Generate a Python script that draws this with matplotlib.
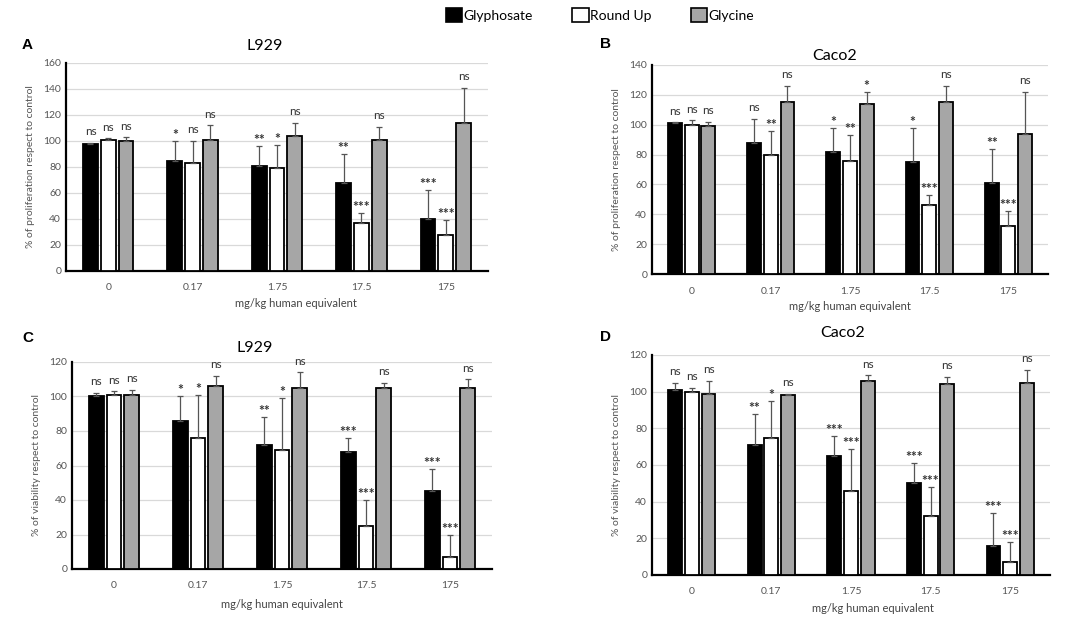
import matplotlib
matplotlib.use('Agg')
import matplotlib.pyplot as plt
import numpy as np
from matplotlib.patches import Patch

plt.rcParams['font.family'] = ['Lato', 'DejaVu Sans']

doses = ['0', '0.17', '1.75', '17.5', '175']
series = ['Glyphosate', 'Round Up', 'Glycine']
colors = ['black', 'white', '#a6a6a6']

# panel A: L929 proliferation
a_gly = [98, 85, 81, 68, 40]
a_ru = [101, 83, 79, 37, 28]
a_gcn = [100, 101, 104, 101, 114]
a_gly_err = [0.5, 15, 15, 22, 22]
a_ru_err = [1, 17, 18, 8, 11]
a_gcn_err = [3, 11, 10, 10, 27]
a_sig = [['ns', '*', '**', '**', '***'],
         ['ns', 'ns', '*', '***', '***'],
         ['ns', 'ns', 'ns', 'ns', 'ns']]

# panel B: Caco2 proliferation
b_gly = [101, 88, 82, 75, 61]
b_ru = [100, 80, 76, 46, 32]
b_gcn = [99, 115, 114, 115, 94]
b_gly_err = [0.5, 16, 16, 23, 23]
b_ru_err = [3, 16, 17, 7, 10]
b_gcn_err = [3, 11, 8, 11, 28]
b_sig = [['ns', 'ns', '*', '*', '**'],
         ['ns', '**', '**', '***', '***'],
         ['ns', 'ns', '*', 'ns', 'ns']]

# panel C: L929 viability
c_gly = [100, 86, 72, 68, 45]
c_ru = [101, 76, 69, 25, 7]
c_gcn = [101, 106, 105, 105, 105]
c_gly_err = [2, 14, 16, 8, 13]
c_ru_err = [2, 25, 30, 15, 13]
c_gcn_err = [3, 6, 9, 3, 5]
c_sig = [['ns', '*', '**', '***', '***'],
         ['ns', '*', '*', '***', '***'],
         ['ns', 'ns', 'ns', 'ns', 'ns']]

# panel D: Caco2 viability
d_gly = [101, 71, 65, 50, 16]
d_ru = [100, 75, 46, 32, 7]
d_gcn = [99, 98, 106, 104, 105]
d_gly_err = [4, 17, 11, 11, 18]
d_ru_err = [2, 20, 23, 16, 11]
d_gcn_err = [7, 1, 3, 4, 7]
d_sig = [['ns', '**', '***', '***', '***'],
         ['ns', '*', '***', '***', '***'],
         ['ns', 'ns', 'ns', 'ns', 'ns']]

W, H = 1084, 623
fig = plt.figure(figsize=(W / 100, H / 100), dpi=100)


def rect(l, t, r, b):
    return [l / W, 1 - b / H, (r - l) / W, (b - t) / H]


def panel(box, vals, errs, sigs, ymax, ylabel, title, tpos, letter, lpos, xlpos):
    ax = fig.add_axes(rect(*box))
    x = np.arange(len(doses))
    bw, step = 0.175, 0.21
    for i in range(3):
        xs = x + (i - 1) * step
        ax.bar(xs, vals[i], bw, color=colors[i], edgecolor='black', linewidth=1.3, zorder=3)
        ax.errorbar(xs, vals[i], yerr=[[0] * 5, errs[i]], fmt='none',
                    ecolor='#555555', elinewidth=0.9, capsize=2.5, capthick=0.9, zorder=4)
        for j in range(5):
            top = vals[i][j] + errs[i][j]
            s = sigs[i][j]
            if s == 'ns':
                ax.annotate(s, (xs[j], top), xytext=(0, 4), textcoords='offset points',
                            ha='center', va='bottom', fontsize=8.5, color='#333333', zorder=5)
            else:
                ax.annotate(s, (xs[j], top), xytext=(0, 0), textcoords='offset points',
                            ha='center', va='bottom', fontsize=10, fontweight='bold',
                            color='#333333', zorder=5)
    ax.set_ylim(0, ymax)
    ax.set_xlim(-0.5, 4.5)
    ax.set_yticks(np.arange(0, ymax + 1, 20))
    ax.set_xticks(x)
    ax.set_xticklabels(doses)
    ax.tick_params(length=0, labelsize=7.5, labelcolor='#555555')
    ax.tick_params(axis='x', pad=9)
    ax.yaxis.grid(True, color='#d9d9d9', lw=0.9, zorder=0)
    for s in ['top', 'right']:
        ax.spines[s].set_visible(False)
    for s in ['left', 'bottom']:
        ax.spines[s].set_linewidth(1.6)
    ax.set_ylabel(ylabel, fontsize=7.5, color='#555555', labelpad=6)
    fig.text(tpos[0] / W, 1 - tpos[1] / H, title, ha='center', va='center', fontsize=11.5)
    fig.text(lpos[0] / W, 1 - lpos[1] / H, letter, ha='left', va='center',
             fontsize=11, fontweight='bold', family='Liberation Sans')
    fig.text(xlpos[0] / W, 1 - xlpos[1] / H, 'mg/kg human equivalent', ha='center',
             va='center', fontsize=8, color='#444444')
    return ax


panel((66, 63, 488, 271), [a_gly, a_ru, a_gcn], [a_gly_err, a_ru_err, a_gcn_err], a_sig,
      160, '% of proliferation respect to control', 'L929', (265, 46), 'A', (22, 45), (296, 303))
panel((652, 65, 1048, 274), [b_gly, b_ru, b_gcn], [b_gly_err, b_ru_err, b_gcn_err], b_sig,
      140, '% of proliferation respect to control', 'Caco2', (835, 56), 'B', (600, 44), (850, 307))
panel((72, 362, 492, 569), [c_gly, c_ru, c_gcn], [c_gly_err, c_ru_err, c_gcn_err], c_sig,
      120, '% of viability respect to control', 'L929', (255, 348), 'C', (22, 338), (282, 605))
panel((652, 355, 1050, 575), [d_gly, d_ru, d_gcn], [d_gly_err, d_ru_err, d_gcn_err], d_sig,
      120, '% of viability respect to control', 'Caco2', (843, 333), 'D', (600, 337), (873, 608))

handles = [Patch(facecolor=c, edgecolor='black', linewidth=1.2) for c in colors]
fig.legend(handles, series, loc='center', bbox_to_anchor=(600 / W, 1 - 15 / H), ncol=3,
           frameon=False, fontsize=10, handlelength=1.2, handleheight=1.1,
           handletextpad=0.1, columnspacing=2.8)

fig.savefig('out.png', dpi=100)
